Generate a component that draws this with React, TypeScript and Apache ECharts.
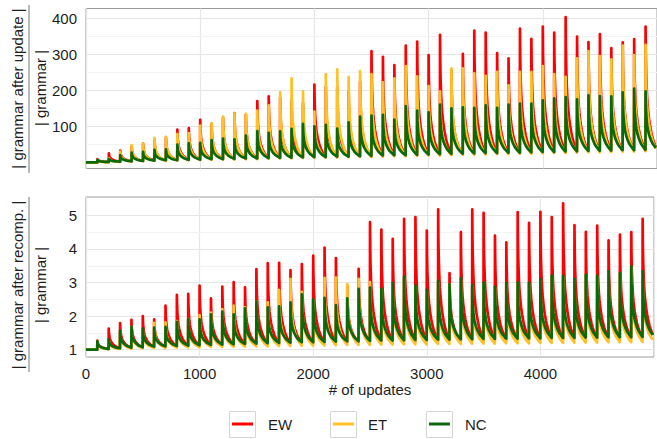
import React, { useEffect, useRef } from "react";
import * as echarts from "echarts";

// Spike positions every 100 updates (100 .. 4900)
const spikeUpdates = [100,200,300,400,500,600,700,800,900,1000,1100,1200,1300,1400,1500,1600,1700,1800,1900,2000,2100,2200,2300,2400,2500,2600,2700,2800,2900,3000,3100,3200,3300,3400,3500,3600,3700,3800,3900,4000,4100,4200,4300,4400,4500,4600,4700,4800,4900];
const lastUpdate = 4990;

// Top panel: |grammar after update| / |grammar| — spike peaks
const updEW = [10,26,34,45,53,62,70,92,96,119,108,125,138,133,171,184,180,173,165,217,210,210,200,225,310,294,271,325,336,299,355,255,302,367,361,304,290,372,344,378,361,404,350,335,357,318,334,343,378];
const updET = [8,13,31,49,53,69,72,80,82,103,110,128,137,136,145,159,195,234,198,142,246,259,238,254,246,223,234,268,240,213,198,262,262,248,241,252,215,252,252,268,246,238,290,310,296,287,325,299,327];
const updNC = [8,11,21,28,30,36,37,50,54,55,63,67,65,75,88,83,87,94,108,101,105,95,112,128,131,133,120,157,145,140,161,151,154,152,159,152,161,164,164,173,179,182,176,187,185,184,195,206,198];
// values just before the next spike
const updTroughEW = [2,3,4,5,6,6,7,8,8,9,10,10,11,12,12,13,14,14,15,16,16,17,17,18,19,20,20,21,22,23,23,24,25,25,26,27,27,28,29,29,30,31,31,32,33,33,34,35,36];
const updTroughET = [1,2,3,4,5,5,6,7,8,8,9,9,10,10,11,12,12,13,13,14,14,15,16,16,17,18,18,19,20,20,21,22,22,23,24,24,25,25,26,27,27,28,29,29,30,31,31,32,33];
const updTroughNC = [2,3,4,5,6,7,7,8,9,10,10,11,12,12,13,14,14,15,16,16,17,17,18,19,20,21,21,22,23,24,25,25,26,27,27,28,28,29,30,30,31,32,33,33,34,35,35,36,38];
const updStart = 1;

// Bottom panel: |grammar after recomp.| / |grammar|
const recEW = [1.27,1.63,1.79,1.89,2.0,1.9,2.31,2.63,2.66,2.91,2.53,2.88,3.01,2.86,3.4,3.58,3.59,3.37,3.55,3.8,4.04,3.73,2.9,3.41,4.8,4.58,4.3,4.9,4.95,4.55,5.18,3.28,4.5,5.18,5.08,4.4,4.2,5.1,4.78,5.11,4.95,5.36,4.71,4.51,4.7,4.26,4.43,4.5,4.9];
const recET = [1.24,1.28,1.55,1.68,1.6,1.8,1.81,1.85,1.91,2.03,2.1,2.21,2.31,2.26,2.43,2.41,2.78,3.11,2.72,2.48,3.14,3.15,2.95,3.11,3.01,2.78,2.93,3.13,2.86,2.73,3.0,2.95,3.08,2.88,2.95,2.83,2.93,2.95,2.95,3.05,3.16,3.15,3.05,3.18,3.16,3.28,3.23,3.43,3.28];
const recNC = [1.25,1.31,1.57,1.69,1.63,1.66,1.68,1.83,1.91,1.9,2.05,2.13,2.05,2.23,2.43,2.26,2.29,2.41,2.65,2.5,2.54,2.33,2.53,2.81,2.85,2.81,2.98,3.18,2.91,2.78,3.05,2.95,3.13,2.93,3.0,2.88,2.98,3.0,3.0,3.1,3.21,3.2,3.1,3.23,3.21,3.33,3.28,3.48,3.33];
const recTroughEW = [1.02,1.04,1.05,1.06,1.08,1.09,1.1,1.11,1.12,1.13,1.14,1.15,1.16,1.17,1.18,1.18,1.19,1.2,1.21,1.21,1.22,1.23,1.23,1.24,1.25,1.25,1.26,1.26,1.27,1.27,1.28,1.28,1.29,1.29,1.3,1.3,1.31,1.31,1.32,1.32,1.32,1.33,1.33,1.34,1.34,1.34,1.35,1.35,1.37];
const recTroughET = [1.01,1.02,1.03,1.04,1.05,1.05,1.06,1.07,1.07,1.08,1.08,1.09,1.09,1.1,1.1,1.11,1.11,1.12,1.12,1.13,1.13,1.14,1.14,1.14,1.15,1.15,1.16,1.16,1.16,1.17,1.17,1.17,1.18,1.18,1.18,1.19,1.19,1.19,1.2,1.2,1.2,1.21,1.21,1.21,1.22,1.22,1.22,1.23,1.25];
const recTroughNC = [1.02,1.04,1.06,1.07,1.09,1.1,1.11,1.12,1.13,1.14,1.15,1.16,1.17,1.18,1.19,1.2,1.21,1.22,1.22,1.23,1.24,1.25,1.25,1.26,1.27,1.27,1.28,1.29,1.29,1.3,1.3,1.31,1.31,1.32,1.32,1.33,1.33,1.34,1.34,1.35,1.35,1.35,1.36,1.36,1.37,1.37,1.37,1.38,1.4];
const recStart = 1;

// Shape of the decay after each spike: offset in updates, share of the spike left
const decayOffsets = [0, 2, 5, 10, 15, 20, 30, 40, 50, 60, 70, 80, 90, 99];
const decayShare = [1, 0.78, 0.63, 0.49, 0.4, 0.34, 0.25, 0.19, 0.14, 0.1, 0.07, 0.045, 0.02, 0];

const seriesNames = ["EW", "ET", "NC"];
const seriesColors = ["#FF0000", "#FFC125", "#0A6A0A"];

const xTicks = [0, 1000, 2000, 3000, 4000];
const updMajor = [100, 200, 300, 400];
const updMinor = [50, 150, 250, 350];
const recMajor = [1, 2, 3, 4, 5];
const recMinor = [1.5, 2.5, 3.5, 4.5];

function buildLine(start: number, peaks: number[], troughs: number[]): number[][] {
  const pts: number[][] = [[0, start], [spikeUpdates[0] - 1, start]];
  spikeUpdates.forEach((u, i) => {
    const p = peaks[i];
    const t = troughs[i];
    decayOffsets.forEach((o, j) => {
      const x = u + o;
      if (x > lastUpdate) return;
      pts.push([x, t + (p - t) * decayShare[j]]);
    });
  });
  return pts;
}

const FONT = "'Liberation Sans', Arial, Helvetica, sans-serif";
const TXT = "#1f1f1f";

export default function App() {
  const ref = useRef<HTMLDivElement>(null);
  useEffect(() => {
    if (!ref.current) return;
    const chart = echarts.init(ref.current, undefined, { renderer: "svg" });
    const upd = [
      buildLine(updStart, updEW, updTroughEW),
      buildLine(updStart, updET, updTroughET),
      buildLine(updStart, updNC, updTroughNC),
    ];
    const rec = [
      buildLine(recStart, recEW, recTroughEW),
      buildLine(recStart, recET, recTroughET),
      buildLine(recStart, recNC, recTroughNC),
    ];
    const gridLines = (major: number[], minor: number[]) => [
      ...minor.map((v) => ({ yAxis: v, lineStyle: { color: "#F3F3F3", width: 1, type: "solid" } })),
      ...major.map((v) => ({ yAxis: v, lineStyle: { color: "#E6E6E6", width: 1.2, type: "solid" } })),
    ];
    const series: any[] = [];
    [0, 1].forEach((g) => {
      series.push({
        type: "line",
        xAxisIndex: g,
        yAxisIndex: g,
        data: [],
        silent: true,
        z: 0,
        markLine: {
          silent: true,
          symbol: "none",
          label: { show: false },
          z: 0,
          animation: false,
          data: g === 0 ? gridLines(updMajor, updMinor) : gridLines(recMajor, recMinor),
        },
      });
      seriesNames.forEach((name, i) => {
        series.push({
          name,
          type: "line",
          xAxisIndex: g,
          yAxisIndex: g,
          data: g === 0 ? upd[i] : rec[i],
          showSymbol: false,
          symbol: "none",
          z: 2 + i,
          color: seriesColors[i],
          lineStyle: { color: seriesColors[i], width: 2.7, join: "round" },
          emphasis: { disabled: true },
        });
      });
    });
    const legendPos = [
      { left: 232, pad: 10 },
      { left: 333, pad: 9 },
      { left: 429, pad: 10 },
    ];
    const xAxisBase = {
      type: "value",
      min: 0,
      max: 5000,
      interval: 1000,
      axisLine: { show: false },
      axisTick: { show: false },
      splitLine: { show: true, lineStyle: { color: "#E6E6E6", width: 1.2 } },
    };
    const yAxisBase = {
      type: "value",
      axisLine: { show: false },
      axisTick: { show: false },
      splitLine: { show: false },
    };
    chart.setOption({
      animation: false,
      textStyle: { fontFamily: FONT },
      grid: [
        { left: 86, top: 8.5, width: 572.5, height: 160, show: true, borderColor: "#9A9A9A", borderWidth: 1, backgroundColor: "#fff" },
        { left: 86, top: 197, width: 572.5, height: 160, show: true, borderColor: "#9A9A9A", borderWidth: 1, backgroundColor: "#fff" },
      ],
      xAxis: [
        { ...xAxisBase, gridIndex: 0, axisLabel: { show: false } },
        {
          ...xAxisBase,
          gridIndex: 1,
          axisLabel: {
            show: true,
            fontSize: 15,
            color: TXT,
            margin: 9,
            fontFamily: FONT,
            formatter: (v: number) => (xTicks.indexOf(v) >= 0 ? String(v) : ""),
          },
          name: "# of updates",
          nameLocation: "middle",
          nameGap: 19,
          nameTextStyle: { fontSize: 15, color: TXT, fontFamily: FONT },
        },
      ],
      yAxis: [
        {
          ...yAxisBase,
          gridIndex: 0,
          min: -16,
          max: 428,
          axisLabel: {
            fontSize: 15,
            color: TXT,
            margin: 9,
            fontFamily: FONT,
            formatter: (v: number) => (updMajor.indexOf(v) >= 0 ? String(v) : ""),
          },
        },
        {
          ...yAxisBase,
          gridIndex: 1,
          min: 0.78,
          max: 5.55,
          axisLabel: {
            fontSize: 15,
            color: TXT,
            margin: 9,
            fontFamily: FONT,
            formatter: (v: number) => (recMajor.indexOf(v) >= 0 ? String(v) : ""),
          },
        },
      ],
      legend: seriesNames.map((name, i) => ({
        data: [name],
        left: legendPos[i].left,
        top: 414,
        padding: 0,
        itemWidth: 21,
        itemHeight: 3,
        icon: "rect",
        selectedMode: false,
        textStyle: { fontSize: 15, color: TXT, fontFamily: FONT, lineHeight: 20, padding: [0, 0, 0, legendPos[i].pad] },
      })),
      graphic: [
        ...legendPos.map((p, i) => ({
          type: "rect",
          z: -1,
          shape: { x: [229.5, 330.5, 426.5][i], y: 411.5, width: 26, height: 26 },
          style: { fill: "#fff", stroke: "#D6D6D6", lineWidth: 1 },
        })),
        { type: "text", x: 17, y: 88.5, rotation: Math.PI / 2, style: { text: "| grammar after update |", fontSize: 15, fontFamily: FONT, fill: TXT, textAlign: "center", textVerticalAlign: "middle" } },
        { type: "line", shape: { x1: 29, y1: 5, x2: 29, y2: 173 }, style: { stroke: "#777", lineWidth: 1 } },
        { type: "text", x: 40, y: 88, rotation: Math.PI / 2, style: { text: "| grammar |", fontSize: 15, fontFamily: FONT, fill: TXT, textAlign: "center", textVerticalAlign: "middle" } },
        { type: "text", x: 17, y: 285, rotation: Math.PI / 2, style: { text: "| grammar after recomp. |", fontSize: 15, fontFamily: FONT, fill: TXT, textAlign: "center", textVerticalAlign: "middle" } },
        { type: "line", shape: { x1: 29, y1: 197, x2: 29, y2: 372 }, style: { stroke: "#777", lineWidth: 1 } },
        { type: "text", x: 40, y: 285, rotation: Math.PI / 2, style: { text: "| grammar |", fontSize: 15, fontFamily: FONT, fill: TXT, textAlign: "center", textVerticalAlign: "middle" } },
      ],
      series,
    });
    return () => chart.dispose();
  }, []);
  return (
    <div
      ref={ref}
      style={{ position: "fixed", left: 0, top: 0, width: 657, height: 439, background: "#fff" }}
    />
  );
}
